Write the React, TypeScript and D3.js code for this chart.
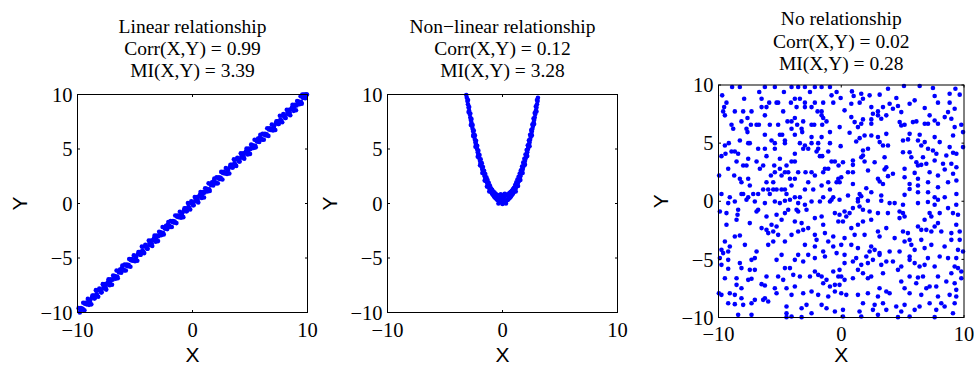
import React from "react";
import * as d3 from "d3";

// ---------- data ----------
const panelTitles = [
  ["Linear relationship", "Corr(X,Y) = 0.99", "MI(X,Y) = 3.39"],
  ["Non\u2212linear relationship", "Corr(X,Y) = 0.12", "MI(X,Y) = 3.28"],
  ["No relationship", "Corr(X,Y) = 0.02", "MI(X,Y) = 0.28"],
];
const xTicks = [-10, 0, 10];
const yTicks = [-10, -5, 0, 5, 10];
const axisLabels = ["X", "Y"];

const linearPts: [number, number][] = [
  [-9.9,-9.6],[-9.8,-10.0],[-9.7,-9.6],[-9.6,-9.75],[-9.5,-9.1],[-9.4,-9.8],[-9.3,-9.1],[-9.2,-9.25],[-9.1,-8.75],[-9.0,-9.3],
  [-8.9,-8.9],[-8.8,-9.25],[-8.7,-8.45],[-8.6,-8.45],[-8.5,-8.7],[-8.4,-7.95],[-8.3,-8.4],[-8.2,-8.55],[-8.1,-7.8],[-8.0,-7.95],
  [-7.9,-8.15],[-7.8,-7.4],[-7.7,-7.8],[-7.6,-7.4],[-7.5,-7.9],[-7.4,-7.35],[-7.3,-6.95],[-7.2,-7.5],[-7.1,-6.95],[-7.0,-7.45],
  [-6.9,-6.6],[-6.8,-6.8],[-6.7,-6.9],[-6.6,-6.15],[-6.5,-6.85],[-6.4,-6.3],[-6.3,-6.05],[-6.2,-6.35],[-6.1,-5.7],[-6.0,-6.05],
  [-5.9,-5.6],[-5.8,-6.15],[-5.7,-5.6],[-5.6,-5.75],[-5.5,-5.1],[-5.4,-5.8],[-5.3,-5.1],[-5.2,-5.25],[-5.1,-4.75],[-5.0,-5.3],
  [-4.9,-4.9],[-4.8,-5.25],[-4.7,-4.45],[-4.6,-4.45],[-4.5,-4.7],[-4.4,-3.95],[-4.3,-4.4],[-4.2,-4.55],[-4.1,-3.8],[-4.0,-3.95],
  [-3.9,-4.15],[-3.8,-3.4],[-3.7,-3.8],[-3.6,-3.4],[-3.5,-3.9],[-3.4,-3.35],[-3.3,-2.95],[-3.2,-3.5],[-3.1,-2.95],[-3.0,-3.45],
  [-2.9,-2.6],[-2.8,-2.8],[-2.7,-2.9],[-2.6,-2.15],[-2.5,-2.85],[-2.4,-2.3],[-2.3,-2.05],[-2.2,-2.35],[-2.1,-1.7],[-2.0,-2.05],
  [-1.9,-1.6],[-1.8,-2.15],[-1.7,-1.6],[-1.6,-1.75],[-1.5,-1.1],[-1.4,-1.8],[-1.3,-1.1],[-1.2,-1.25],[-1.1,-0.75],[-1.0,-1.3],
  [-0.9,-0.9],[-0.8,-1.25],[-0.7,-0.45],[-0.6,-0.45],[-0.5,-0.7],[-0.4,0.05],[-0.3,-0.4],[-0.2,-0.55],[-0.1,0.2],[0.0,0.05],
  [0.1,-0.15],[0.2,0.6],[0.3,0.2],[0.4,0.6],[0.5,0.1],[0.6,0.65],[0.7,1.05],[0.8,0.5],[0.9,1.05],[1.0,0.55],
  [1.1,1.4],[1.2,1.2],[1.3,1.1],[1.4,1.85],[1.5,1.15],[1.6,1.7],[1.7,1.95],[1.8,1.65],[1.9,2.3],[2.0,1.95],
  [2.1,2.4],[2.2,1.85],[2.3,2.4],[2.4,2.25],[2.5,2.9],[2.6,2.2],[2.7,2.9],[2.8,2.75],[2.9,3.25],[3.0,2.7],
  [3.1,3.1],[3.2,2.75],[3.3,3.55],[3.4,3.55],[3.5,3.3],[3.6,4.05],[3.7,3.6],[3.8,3.45],[3.9,4.2],[4.0,4.05],
  [4.1,3.85],[4.2,4.6],[4.3,4.2],[4.4,4.6],[4.5,4.1],[4.6,4.65],[4.7,5.05],[4.8,4.5],[4.9,5.05],[5.0,4.55],
  [5.1,5.4],[5.2,5.2],[5.3,5.1],[5.4,5.85],[5.5,5.15],[5.6,5.7],[5.7,5.95],[5.8,5.65],[5.9,6.3],[6.0,5.95],
  [6.1,6.4],[6.2,5.85],[6.3,6.4],[6.4,6.25],[6.5,6.9],[6.6,6.2],[6.7,6.9],[6.8,6.75],[6.9,7.25],[7.0,6.7],
  [7.1,7.1],[7.2,6.75],[7.3,7.55],[7.4,7.55],[7.5,7.3],[7.6,8.05],[7.7,7.6],[7.8,7.45],[7.9,8.2],[8.0,8.05],
  [8.1,7.85],[8.2,8.6],[8.3,8.2],[8.4,8.6],[8.5,8.1],[8.6,8.65],[8.7,9.05],[8.8,8.5],[8.9,9.05],[9.0,8.55],
  [9.1,9.4],[9.2,9.2],[9.3,9.1],[9.4,9.85],[9.5,9.15],[9.6,9.7],[9.7,9.95],[9.8,9.65],[9.9,10.0],
  [9.95,10.0],[9.7,10.0],[9.85,9.9],[9.55,10.0],
  [-9.75,-9.7],[-9.55,-9.65],[-9.35,-9.2],[-9.15,-9.15],[-8.95,-9.0],[-8.75,-8.65],[-8.55,-8.7],[-8.35,-8.3],[-8.15,-7.95],[-7.95,-8.15],
  [-7.75,-7.7],[-7.55,-7.65],[-7.35,-7.2],[-7.15,-7.15],[-6.95,-7.0],[-6.75,-6.65],[-6.55,-6.7],[-6.35,-6.3],[-6.15,-5.95],[-5.95,-6.15],
  [-5.75,-5.7],[-5.55,-5.65],[-5.35,-5.2],[-5.15,-5.15],[-4.95,-5.0],[-4.75,-4.65],[-4.55,-4.7],[-4.35,-4.3],[-4.15,-3.95],[-3.95,-4.15],
  [-3.75,-3.7],[-3.55,-3.65],[-3.35,-3.2],[-3.15,-3.15],[-2.95,-3.0],[-2.75,-2.65],[-2.55,-2.7],[-2.35,-2.3],[-2.15,-1.95],[-1.95,-2.15],
  [-1.75,-1.7],[-1.55,-1.65],[-1.35,-1.2],[-1.15,-1.15],[-0.95,-1.0],[-0.75,-0.65],[-0.55,-0.7],[-0.35,-0.3],[-0.15,0.05],[0.05,-0.15],
  [0.25,0.3],[0.45,0.35],[0.65,0.8],[0.85,0.85],[1.05,1.0],[1.25,1.35],[1.45,1.3],[1.65,1.7],[1.85,2.05],[2.05,1.85],
  [2.25,2.3],[2.45,2.35],[2.65,2.8],[2.85,2.85],[3.05,3.0],[3.25,3.35],[3.45,3.3],[3.65,3.7],[3.85,4.05],[4.05,3.85],
  [4.25,4.3],[4.45,4.35],[4.65,4.8],[4.85,4.85],[5.05,5.0],[5.25,5.35],[5.45,5.3],[5.65,5.7],[5.85,6.05],[6.05,5.85],
  [6.25,6.3],[6.45,6.35],[6.65,6.8],[6.85,6.85],[7.05,7.0],[7.25,7.35],[7.45,7.3],[7.65,7.7],[7.85,8.05],[8.05,7.85],
  [8.25,8.3],[8.45,8.35],[8.65,8.8],[8.85,8.85],[9.05,9.0],[9.25,9.35],[9.45,9.3],[9.65,9.7],[9.85,10.0],
];

const parabolaPts: [number, number][] = [
  [-3.15,9.95],[-3.1,9.7],[-3.05,9.4],[-3.0,9.1],[-2.95,8.8],[-2.9,8.5],[-2.85,8.2],[-2.8,7.9],[-2.75,7.65],[-2.7,7.4],
  [-2.65,7.1],[-2.6,6.85],[-2.55,6.6],[-2.5,6.35],[-2.45,6.1],[-2.4,5.85],[-2.35,5.6],[-2.3,5.4],[-2.25,5.15],[-2.2,4.95],
  [-2.15,4.7],[-2.1,4.5],[-2.05,4.3],[-2.0,4.1],[-1.95,3.9],[-1.9,3.7],[-1.85,3.5],[-1.8,3.35],[-1.75,3.15],[-1.7,3.0],
  [-1.65,2.85],[-1.6,2.7],[-1.55,2.5],[-1.5,2.35],[-1.45,2.2],[-1.4,2.05],[-1.35,1.95],[-1.3,1.8],[-1.25,1.7],[-1.2,1.55],
  [-1.15,1.45],[-1.1,1.3],[-1.05,1.2],[-1.0,1.1],[-0.95,1.0],[-0.9,0.9],[-0.85,0.85],[-0.8,0.75],[-0.75,0.7],[-0.7,0.6],
  [-0.65,0.55],[-0.6,0.5],[-0.55,0.45],[-0.5,0.4],[-0.45,0.35],[-0.4,0.3],[-0.35,0.3],[-0.3,0.25],[-0.25,0.2],[-0.2,0.2],
  [-0.15,0.15],[-0.1,0.15],[-0.05,0.1],[0.0,0.1],[0.05,0.1],[0.1,0.15],[0.15,0.15],[0.2,0.2],[0.25,0.2],[0.3,0.25],
  [0.35,0.3],[0.4,0.3],[0.45,0.35],[0.5,0.4],[0.55,0.45],[0.6,0.5],[0.65,0.55],[0.7,0.6],[0.75,0.7],[0.8,0.75],
  [0.85,0.85],[0.9,0.9],[0.95,1.0],[1.0,1.1],[1.05,1.2],[1.1,1.3],[1.15,1.45],[1.2,1.55],[1.25,1.7],[1.3,1.8],
  [1.35,1.95],[1.4,2.05],[1.45,2.2],[1.5,2.35],[1.55,2.5],[1.6,2.7],[1.65,2.85],[1.7,3.0],[1.75,3.15],[1.8,3.35],
  [1.85,3.5],[1.9,3.7],[1.95,3.9],[2.0,4.1],[2.05,4.3],[2.1,4.5],[2.15,4.7],[2.2,4.95],[2.25,5.15],[2.3,5.4],
  [2.35,5.6],[2.4,5.85],[2.45,6.1],[2.5,6.35],[2.55,6.6],[2.6,6.85],[2.65,7.1],[2.7,7.4],[2.75,7.65],[2.8,7.9],
  [2.85,8.2],[2.9,8.5],[2.95,8.8],[3.0,9.1],[3.05,9.4],[3.08,9.7],
  [-3.0,9.5],[-2.9,8.85],[-2.8,8.25],[-2.7,7.75],[-2.6,7.2],[-2.5,6.7],[-2.4,6.25],[-2.3,5.75],[-2.2,5.3],[-2.1,4.85],
  [-2.0,4.45],[-1.9,4.05],[-1.8,3.7],[-1.7,3.35],[-1.6,3.0],[-1.5,2.7],[-1.4,2.4],[-1.3,2.15],[-1.2,1.9],[-1.1,1.65],
  [-1.0,1.4],[-0.9,1.25],[-0.8,1.1],[-0.7,1.0],[-0.6,0.9],[-0.5,0.8],[-0.4,0.75],[-0.3,0.7],[-0.2,0.6],[-0.1,0.55],
  [0.0,0.5],[0.1,0.55],[0.2,0.65],[0.3,0.75],[0.4,0.8],[0.5,0.85],[0.6,0.95],[0.7,1.05],[0.8,1.15],[0.9,1.3],
  [1.0,1.45],[1.1,1.7],[1.2,1.95],[1.3,2.2],[1.4,2.45],[1.5,2.75],[1.6,3.05],[1.7,3.4],[1.8,3.75],[1.9,4.1],
  [2.0,4.5],[2.1,4.9],[2.2,5.35],[2.3,5.8],[2.4,6.3],[2.5,6.75],[2.6,7.25],[2.7,7.8],[2.8,8.3],[2.9,8.9],[3.0,9.5],
  [-2.95,8.4],[-2.75,7.2],[-2.55,6.2],[-2.35,5.2],[-2.15,4.3],[-1.95,3.5],[-1.75,2.8],[-1.55,2.1],[-1.35,1.55],[-1.15,1.1],
  [1.15,1.1],[1.35,1.6],[1.55,2.15],[1.75,2.8],[1.95,3.55],[2.15,4.35],[2.35,5.25],[2.55,6.25],[2.75,7.3],[2.95,8.45],
  [-0.35,0.0],[0.0,-0.05],[0.3,0.0],[-0.15,0.85],[0.2,0.9],[0.05,0.75],
];

// No relationship: rows of [y, xs...]
const noRelRows: [number, number[]][] = [
  [9.83,[-8.89,-8.26,-6.22,-5.41,-4.05,-3.51,-2.96,-2.15,-1.60,-0.92]],
  [9.40,[-6.68,-4.67,-2.55,-0.38]],
  [9.11,[-9.70,-0.79]],
  [8.82,[-7.91,-6.49,-3.78,-3.37]],
  [8.48,[-9.35,-5.87,-5.27,-5.14,-4.10,-2.96,-2.15,-1.47,-0.65]],
  [8.10,[-9.54,-6.49,-6.09,-3.64,-2.96,-2.42]],
  [7.73,[-9.62,-8.67,-7.99,-7.31,-4.73,-1.93,-1.60]],
  [7.39,[-9.48,-6.22,-1.60]],
  [7.16,[-7.64,-3.78,-1.47]],
  [6.87,[-8.13,-4.38,-4.05,-3.10,-1.20]],
  [6.58,[-8.94,-7.36,-6.90,-6.71,-5.82,-5.14,-3.59,-2.42,-2.20,-1.55]],
  [6.24,[-8.80,-7.72,-4.05,-3.23]],
  [5.95,[-7.64,-3.18,-0.92]],
  [5.72,[-6.22,-5.00,-4.81,-3.78]],
  [5.52,[-2.42,-1.60]],
  [5.23,[-8.26,-5.68,-4.59]],
  [5.00,[-9.16,-7.58,-7.45,-5.41,-4.59,-3.37,-2.42,-1.88,-0.92]],
  [4.80,[-9.48,-2.96]],
  [4.51,[-6.77,-6.22,-5.41,-3.10,-2.69,-1.88]],
  [4.28,[-8.94,-8.67,-2.01,-1.06]],
  [4.08,[-9.43,-8.40,-3.78]],
  [3.88,[-9.76,-6.09,-1.74,-1.55]],
  [3.65,[-7.58,-5.00]],
  [3.42,[-8.53,-6.90,-4.05,-3.78,-0.79,-0.52]],
  [3.07,[-7.99,-7.72,-6.36,-5.46,-4.46]],
  [2.79,[-9.21,-6.63,-5.00,-1.33,-1.06]],
  [2.50,[-5.41,-4.59,-4.32,-3.51,-2.91,-2.42,-1.47]],
  [2.21,[-9.95,-8.72,-5.73,-4.86,-2.15]],
  [1.93,[-8.26,-7.58,-4.18,-3.78,-0.24]],
  [1.64,[-8.13,-6.09,-5.54,-2.69,-1.06,-0.38]],
  [1.35,[-7.45,-4.05,-1.60]],
  [1.01,[-6.36,-5.95,-5.54,-5.27,-4.86,-4.59,-2.96,-2.28,-0.92]],
  [0.63,[-9.76,-8.13,-7.99,-7.17,-6.77,-5.82,-4.46]],
  [0.34,[-9.08,-7.58,-3.78,-3.37,-1.47,-0.65]],
  [9.91,[5.11,6.39]],
  [9.74,[7.47]],
  [9.68,[3.81,9.30]],
  [9.45,[0.87]],
  [9.25,[1.63,8.83]],
  [9.17,[9.65,3.13]],
  [9.11,[2.31]],
  [9.05,[7.61,1.01]],
  [8.88,[-0.05,4.49]],
  [8.82,[1.77]],
  [8.68,[5.98]],
  [8.48,[7.88,8.83,1.50]],
  [8.39,[0.82,5.57,3.94]],
  [8.19,[4.62]],
  [8.10,[3.40,2.45]],
  [8.02,[6.80]],
  [7.96,[4.21,9.24]],
  [7.82,[0.27]],
  [7.73,[2.99]],
  [7.67,[4.89,8.70]],
  [7.53,[2.58]],
  [7.39,[2.99,3.67,7.20]],
  [7.24,[0.82,8.43]],
  [7.10,[3.26,8.97]],
  [7.04,[1.77,2.45]],
  [6.95,[7.61]],
  [6.87,[6.12]],
  [6.81,[1.09,5.84,4.76]],
  [6.67,[1.63,2.45,7.88,6.80,7.07]],
  [6.58,[5.16,9.78]],
  [6.52,[4.89]],
  [6.38,[9.24,-0.13,1.36]],
  [5.95,[9.92]],
  [5.89,[0.68]],
  [5.80,[3.67,5.57]],
  [5.72,[6.39]],
  [5.66,[2.45,1.90,9.11]],
  [5.52,[2.99,7.61]],
  [5.43,[1.50]],
  [5.32,[5.44]],
  [5.23,[6.25,5.03]],
  [5.14,[1.22]],
  [5.09,[6.80,3.13,8.02]],
  [4.80,[3.40,3.81,6.52]],
  [4.74,[-0.05]],
  [4.66,[8.83,9.92]],
  [4.51,[2.18,7.07]],
  [4.37,[1.77,7.47]],
  [4.22,[5.03,5.57]],
  [4.17,[9.11]],
  [4.08,[7.75,9.38]],
  [3.94,[1.77,8.56]],
  [3.79,[1.63,3.53,5.71,6.66]],
  [3.51,[0.95,7.61]],
  [3.42,[1.90]],
  [3.36,[0.14,2.72,6.12]],
  [3.22,[6.93,8.29,8.97]],
  [3.13,[0.95,6.52]],
  [3.07,[-0.22,6.25]],
  [2.93,[3.67,9.38]],
  [2.79,[5.16]],
  [2.73,[3.53,8.43]],
  [2.64,[2.18]],
  [2.50,[0.55,0.95,7.20]],
  [2.44,[5.98]],
  [2.36,[4.21,9.11]],
  [2.21,[7.88]],
  [2.16,[3.81]],
  [2.07,[0.00,5.16]],
  [1.93,[2.99,6.25]],
  [1.78,[9.38]],
  [1.70,[3.13]],
  [1.64,[-0.13,7.07,8.70]],
  [1.49,[0.95,3.40,5.57]],
  [1.35,[6.25]],
  [1.21,[7.88]],
  [1.12,[2.04]],
  [1.06,[5.57]],
  [0.78,[2.45,6.25,7.07]],
  [0.63,[1.50,9.38]],
  [0.55,[5.16]],
  [0.49,[0.55,3.26]],
  [0.43,[1.63]],
  [0.34,[7.61,8.43]],
  [0.20,[1.36]],
  [0.13,[-7.72,-4.18,-0.79]],
  [0.04,[-4.59]],
  [-0.02,[-8.67,-7.04,-5.41,-2.42,-1.74,-0.92]],
  [-0.16,[-9.21,-6.22,-5.00,-3.51]],
  [-0.30,[-2.96]],
  [-0.73,[-8.40,-6.77,-4.32,-3.64,-2.83]],
  [-0.88,[-9.89,-6.90,-3.51]],
  [-1.02,[-9.35,-4.59,-0.52]],
  [-1.16,[-8.45,-5.27]],
  [-1.31,[-6.09,-1.60]],
  [-1.45,[-2.15]],
  [-1.59,[-8.53,-4.86]],
  [-1.74,[-0.24,-3.78]],
  [-1.88,[-7.45,-3.23]],
  [-2.02,[-5.68,-9.35,-1.47]],
  [-2.17,[-5.27]],
  [-2.31,[-6.49,-2.69]],
  [-2.46,[-6.09,-3.10]],
  [-2.60,[-5.54,-3.51]],
  [-2.74,[-5.95,-1.33]],
  [-2.89,[-4.05,-5.14,-2.15]],
  [-2.94,[-8.26]],
  [-3.03,[-0.65,-8.67]],
  [-3.32,[-2.01]],
  [-3.46,[-9.48,-5.54,-4.59,-1.06]],
  [-3.75,[-7.85,-5.95,-2.96]],
  [-3.89,[-9.08,-2.15,-0.65]],
  [-4.18,[-9.76]],
  [-4.32,[-9.21,-6.90,-1.47]],
  [-4.46,[-9.62,-0.38]],
  [-4.61,[-4.86,-3.51,-2.69]],
  [-4.75,[-1.33]],
  [-4.89,[-9.89,-7.04,-2.15]],
  [-5.04,[-9.21,-7.31,-5.27,-3.78]],
  [-5.18,[-3.10]],
  [-5.32,[-8.26]],
  [-5.47,[-9.76]],
  [-5.75,[-8.13,-4.59,-4.18]],
  [-5.81,[-9.21]],
  [-5.90,[-7.45,-7.04]],
  [-6.04,[-2.15,-0.65]],
  [-6.33,[-1.88,-3.91]],
  [-6.47,[-0.24,-6.09,-5.14,-3.37,-2.55,-1.60]],
  [-6.62,[-9.48,-8.53]],
  [-6.67,[-7.31]],
  [-6.76,[-7.58,-1.20,-4.73]],
  [-7.05,[-1.47]],
  [-7.13,[-6.49]],
  [-7.19,[-8.53,-0.52]],
  [-7.25,[-6.22]],
  [-7.33,[-3.78,-0.92]],
  [-7.48,[-8.13,-5.41,-4.46]],
  [-7.76,[-2.42,-0.52]],
  [-7.91,[-9.97,-9.08,-5.27,-3.10]],
  [-8.05,[-9.76,-8.67,-4.05,-1.88]],
  [-8.19,[-1.06]],
  [-8.34,[-8.13,-6.22]],
  [-8.48,[-7.04,-6.36]],
  [-8.62,[-5.95]],
  [-8.77,[-9.21,-7.31]],
  [-8.85,[-8.67]],
  [-8.91,[-7.99,-2.83,-1.60]],
  [-9.05,[-4.46]],
  [-9.20,[-3.23,-1.20]],
  [-9.48,[-0.52]],
  [-9.63,[-4.46,-2.42]],
  [-9.77,[-8.40,-7.31]],
  [-9.92,[-4.05]],
  [-9.97,[-3.23,-4.46]],
  [0.13,[-0.14,7.88]],
  [0.04,[2.17,3.26]],
  [-0.02,[1.36]],
  [-0.07,[7.06]],
  [-0.16,[3.94,4.35,6.25]],
  [-0.30,[5.03,7.61,9.37]],
  [-0.45,[1.49]],
  [-0.59,[0.95,8.70]],
  [-0.73,[1.77]],
  [-0.88,[0.27,2.31,4.75]],
  [-1.02,[0.68,2.99,3.80,5.03,7.20,8.02,9.10]],
  [-1.16,[9.51,-0.14]],
  [-1.31,[0.41,5.16,7.34]],
  [-1.45,[4.75]],
  [-1.59,[2.44,6.79]],
  [-1.74,[0.14,1.77]],
  [-1.88,[7.88]],
  [-2.02,[9.37,1.36]],
  [-2.17,[6.25,7.61]],
  [-2.31,[0.82,3.67]],
  [-2.46,[6.52,6.93]],
  [-2.60,[2.99,5.03,7.34,8.15,9.65]],
  [-2.74,[5.43,8.97]],
  [-2.89,[1.90,1.09]],
  [-3.03,[3.12]],
  [-3.17,[0.27,4.35]],
  [-3.32,[5.57,6.52,8.97,9.65]],
  [-3.46,[5.16]],
  [-3.75,[5.71,0.00,0.82,7.34]],
  [-3.89,[2.44,8.42]],
  [-4.03,[1.36,6.79]],
  [-4.18,[2.72,5.98,9.51]],
  [-4.32,[2.31,3.94,4.75,9.92]],
  [-4.46,[3.12]],
  [-4.61,[0.27,3.12]],
  [-4.75,[2.04,5.57,8.02]],
  [-4.89,[1.22,7.06,8.70,9.37]],
  [-5.04,[2.58,5.57]],
  [-5.18,[3.67,0.95,4.21]],
  [-5.32,[0.27,2.17,5.98]],
  [-5.47,[1.63,3.26,6.79]],
  [-5.61,[4.89,6.38,7.61,9.24]],
  [-5.75,[9.51]],
  [-5.90,[-0.14,1.36,4.62]],
  [-6.04,[9.78]],
  [-6.19,[1.77,3.40,8.97]],
  [-6.47,[2.44,5.57,6.66,7.88,0.00]],
  [-6.56,[6.25]],
  [-6.62,[0.95,2.17,9.78]],
  [-6.76,[0.27]],
  [-6.90,[4.89,8.56]],
  [-7.05,[6.11,9.24]],
  [-7.19,[-0.14]],
  [-7.33,[7.20,7.74]],
  [-7.48,[3.12,5.16,6.93]],
  [-7.62,[9.37]],
  [-7.76,[3.67]],
  [-7.91,[0.00,2.17,3.94,5.57]],
  [-8.05,[0.41,1.36,6.52,8.83]],
  [-8.19,[2.99,7.88,9.37]],
  [-8.77,[1.77,3.40,7.20,8.15,9.24]],
  [-8.91,[2.72,5.16]],
  [-9.05,[4.48,6.38,8.42]],
  [-9.34,[0.14,2.58,3.67,5.98,7.74]],
  [-9.48,[1.49,4.89]],
  [-9.63,[9.10]],
  [-9.77,[2.99]],
  [-9.92,[0.14,1.63,5.57]],
  [-9.97,[4.62,7.61]],
];
const noRelPts: [number, number][] = noRelRows.flatMap(([y, xs]) => xs.map((x) => [x, y] as [number, number]));

// ---------- layout ----------
const W = 974;
const H = 366;
const SERIF = "'Liberation Serif', 'Times New Roman', serif";
const SANS = "'Liberation Sans', Arial, sans-serif";
const BLUE = "#0000ff";

const layouts = [
  { left: 77.5, right: 307.5, top: 94.5, bottom: 312.5, titleY: [33, 55, 77], yLabX: 26.5, xLabY: 361.5, xTickY: 337 },
  { left: 387.5, right: 617.5, top: 94.5, bottom: 312.5, titleY: [33, 55, 77], yLabX: 336.5, xLabY: 361.5, xTickY: 337 },
  { left: 718.5, right: 964, top: 85, bottom: 317.5, titleY: [25, 48, 70], yLabX: 668, xLabY: 362, xTickY: 341 },
];
const datasets = [linearPts, parabolaPts, noRelPts];

const fmt = (v: number) => (v < 0 ? "\u2212" + Math.abs(v) : String(v));

function Panel({ idx }: { idx: number }) {
  const L = layouts[idx];
  const x = d3.scaleLinear().domain([-10, 10]).range([L.left, L.right]);
  const y = d3.scaleLinear().domain([-10, 10]).range([L.bottom, L.top]);
  const cx = (L.left + L.right) / 2;
  const cy = (L.top + L.bottom) / 2;
  const tl = 2.5;
  return (
    <g>
      {panelTitles[idx].map((t, i) => (
        <text key={i} x={cx} y={L.titleY[i]} textAnchor="middle" fontFamily={SERIF} fontSize={19.5} fill="#000">
          {t}
        </text>
      ))}
      {datasets[idx].map(([px, py], i) => (
        <circle key={i} cx={x(px)} cy={y(py)} r={2.3} fill={BLUE} />
      ))}
      <rect x={L.left} y={L.top} width={L.right - L.left} height={L.bottom - L.top} fill="none" stroke="#000" strokeWidth={1} />
      {xTicks.map((t) => (
        <g key={"x" + t}>
          <line x1={x(t)} x2={x(t)} y1={L.bottom} y2={L.bottom - tl} stroke="#000" />
          <line x1={x(t)} x2={x(t)} y1={L.top} y2={L.top + tl} stroke="#000" />
          <text x={x(t)} y={L.xTickY} textAnchor="middle" fontFamily={SERIF} fontSize={20.5} fill="#000">
            {fmt(t)}
          </text>
        </g>
      ))}
      {yTicks.map((t) => (
        <g key={"y" + t}>
          <line x1={L.left} x2={L.left + tl} y1={y(t)} y2={y(t)} stroke="#000" />
          <line x1={L.right} x2={L.right - tl} y1={y(t)} y2={y(t)} stroke="#000" />
          <text x={L.left - 5} y={y(t)} dy="0.35em" textAnchor="end" fontFamily={SERIF} fontSize={20.5} fill="#000">
            {fmt(t)}
          </text>
        </g>
      ))}
      <text x={cx} y={L.xLabY} textAnchor="middle" fontFamily={SANS} fontSize={21} fill="#000">
        {axisLabels[0]}
      </text>
      <text transform={`translate(${L.yLabX},${cy}) rotate(-90)`} textAnchor="middle" fontFamily={SANS} fontSize={21} fill="#000">
        {axisLabels[1]}
      </text>
    </g>
  );
}

export default function App() {
  return (
    <svg width={W} height={H} style={{ position: "absolute", left: 0, top: 0, background: "#fff" }}>
      <rect width={W} height={H} fill="#fff" />
      {[0, 1, 2].map((i) => (
        <Panel key={i} idx={i} />
      ))}
    </svg>
  );
}
